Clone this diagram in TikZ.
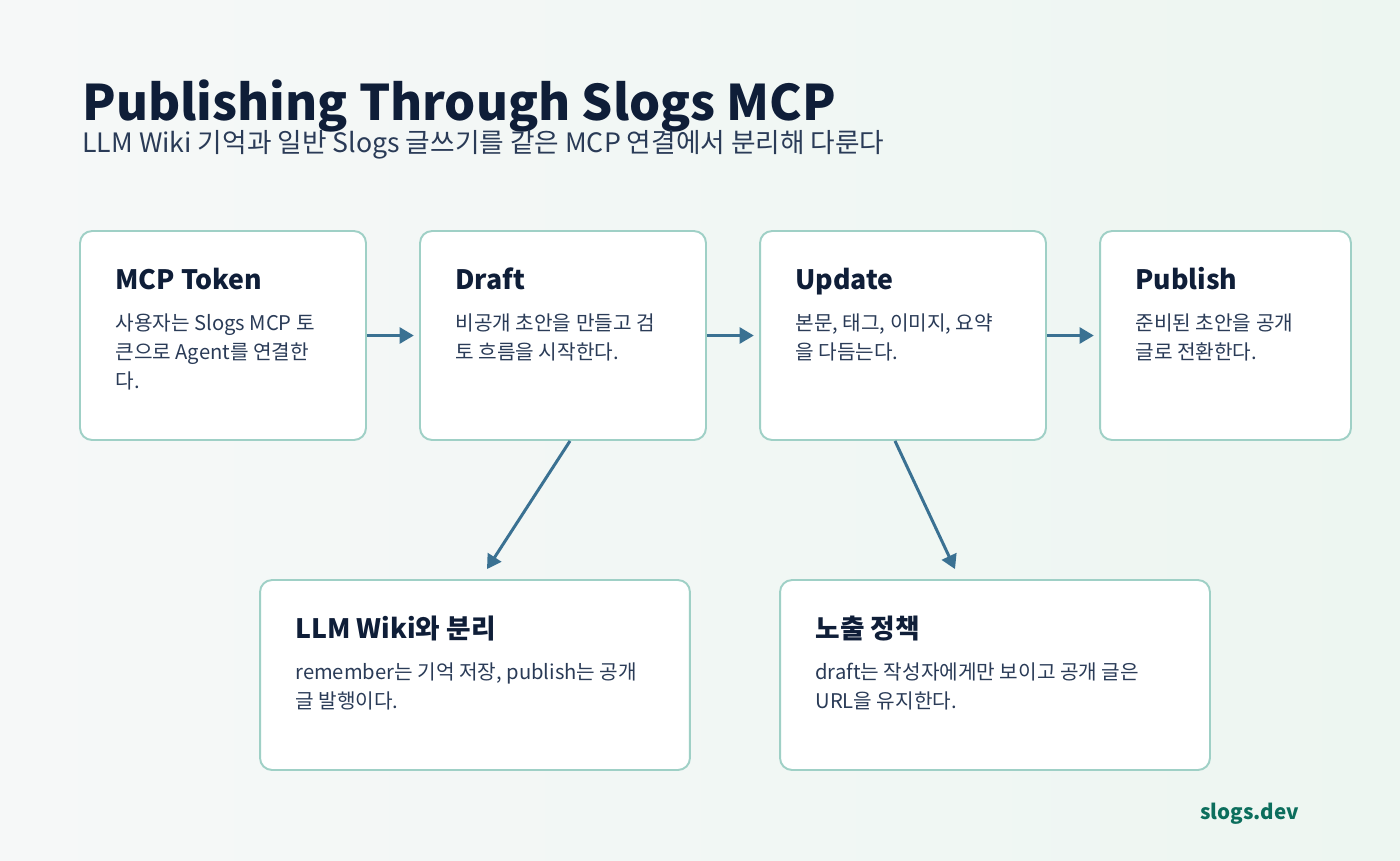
\documentclass[tikz,border=0pt]{standalone}
\usepackage{fontspec}
\setmainfont{Noto Sans CJK KR}
\usepackage{xcolor}
\usetikzlibrary{arrows.meta, positioning, calc}
\definecolor{ink}{HTML}{0F1E38}
\definecolor{subink}{HTML}{2A3B57}
\definecolor{edge}{HTML}{9FD0C6}
\definecolor{flow}{HTML}{3A7192}
\definecolor{brand}{HTML}{0C6E5D}
\definecolor{bgA}{HTML}{F6F8F8}
\definecolor{bgB}{HTML}{EDF6F1}
\def\padX{36}
\def\headY{59}
\def\bodyY{100}
\def\lineSkip{29.1}
\begin{document}
\begin{tikzpicture}[
    x=0.02cm, y=-0.02cm,
    >={Triangle[length=8pt,width=9pt]},
    card/.style={draw=edge, line width=1.1pt, fill=white, rounded corners=0.24cm},
    small/.style={minimum width=5.72cm, minimum height=4.18cm},
    wide/.style={minimum width=8.6cm, minimum height=3.8cm},
    head/.style={anchor=base west, inner sep=0pt, text=ink, font=\fontsize{15.2}{18}\selectfont\bfseries},
    body/.style={anchor=base west, inner sep=0pt, text=subink, align=left, font=\fontsize{11.5}{16.5}\selectfont},
    flowline/.style={->, draw=flow, line width=1.7pt}
]
% background
\shade[left color=bgA, right color=bgB] (0,0) rectangle (1400,860);
\useasboundingbox (0,0) rectangle (1400,860);

\node[anchor=base west, inner sep=0pt, text=ink, font=\fontsize{27.9}{34}\selectfont\bfseries] (title) at (82,120) {Publishing Through Slogs MCP};
\node[anchor=base west, inner sep=0pt, text=subink, font=\fontsize{15.2}{18}\selectfont] (subtitle) at (82,152) {LLM Wiki 기억과 일반 Slogs 글쓰기를 같은 MCP 연결에서 분리해 다룬다};

% top row
\node[card, small] (token) at (223,335.5) {};
\node[card, small] (draft) at (563,335.5) {};
\node[card, small] (update) at (903,335.5) {};
\node[card, small, minimum width=5.02cm] (publish) at (1225.5,335.5) {};
% bottom row
\node[card, wide] (wiki) at (475,675) {};
\node[card, wide] (policy) at (995,675) {};

% base of a multi-line node is its last line
\node[head] (tokenHead) at ($(token.north west)+(\padX,\headY)$) {MCP Token};
\node[body] (tokenBody) at ($(token.north west)+(\padX,\bodyY+2*\lineSkip)$) {사용자는 Slogs MCP 토\\큰으로 Agent를 연결한\\다.};
\node[head] (draftHead) at ($(draft.north west)+(\padX,\headY)$) {Draft};
\node[body] (draftBody) at ($(draft.north west)+(\padX,\bodyY+\lineSkip)$) {비공개 초안을 만들고 검\\토 흐름을 시작한다.};
\node[head] (updateHead) at ($(update.north west)+(\padX,\headY)$) {Update};
\node[body] (updateBody) at ($(update.north west)+(\padX,\bodyY+\lineSkip)$) {본문, 태그, 이미지, 요약\\을 다듬는다.};
\node[head] (publishHead) at ($(publish.north west)+(\padX,\headY)$) {Publish};
\node[body] (publishBody) at ($(publish.north west)+(\padX,\bodyY+\lineSkip)$) {준비된 초안을 공개\\글로 전환한다.};
\node[head] (wikiHead) at ($(wiki.north west)+(\padX,\headY)$) {LLM Wiki와 분리};
\node[body] (wikiBody) at ($(wiki.north west)+(\padX,\bodyY+\lineSkip)$) {remember는 기억 저장, publish는 공개\\글 발행이다.};
\node[head] (policyHead) at ($(policy.north west)+(\padX,\headY)$) {노출 정책};
\node[body] (policyBody) at ($(policy.north west)+(\padX,\bodyY+\lineSkip)$) {draft는 작성자에게만 보이고 공개 글은\\URL을 유지한다.};

\draw[flowline, shorten >=3pt] (token.east) -- (draft.west);
\draw[flowline, shorten >=3pt] (draft.east) -- (update.west);
\draw[flowline, shorten >=3pt] (update.east) -- (publish.west);
\draw[flowline] ($(draft.south)+(7,0)$) -- ($(wiki.north)+(12,-10)$);
\draw[flowline] ($(update.south)+(-8,0)$) -- ($(policy.north)+(-40,-10)$);

\node[anchor=base west, inner sep=0pt, text=brand, font=\fontsize{11.7}{14}\selectfont\bfseries] (site) at (1200,819) {slogs.dev};
\end{tikzpicture}
\end{document}
